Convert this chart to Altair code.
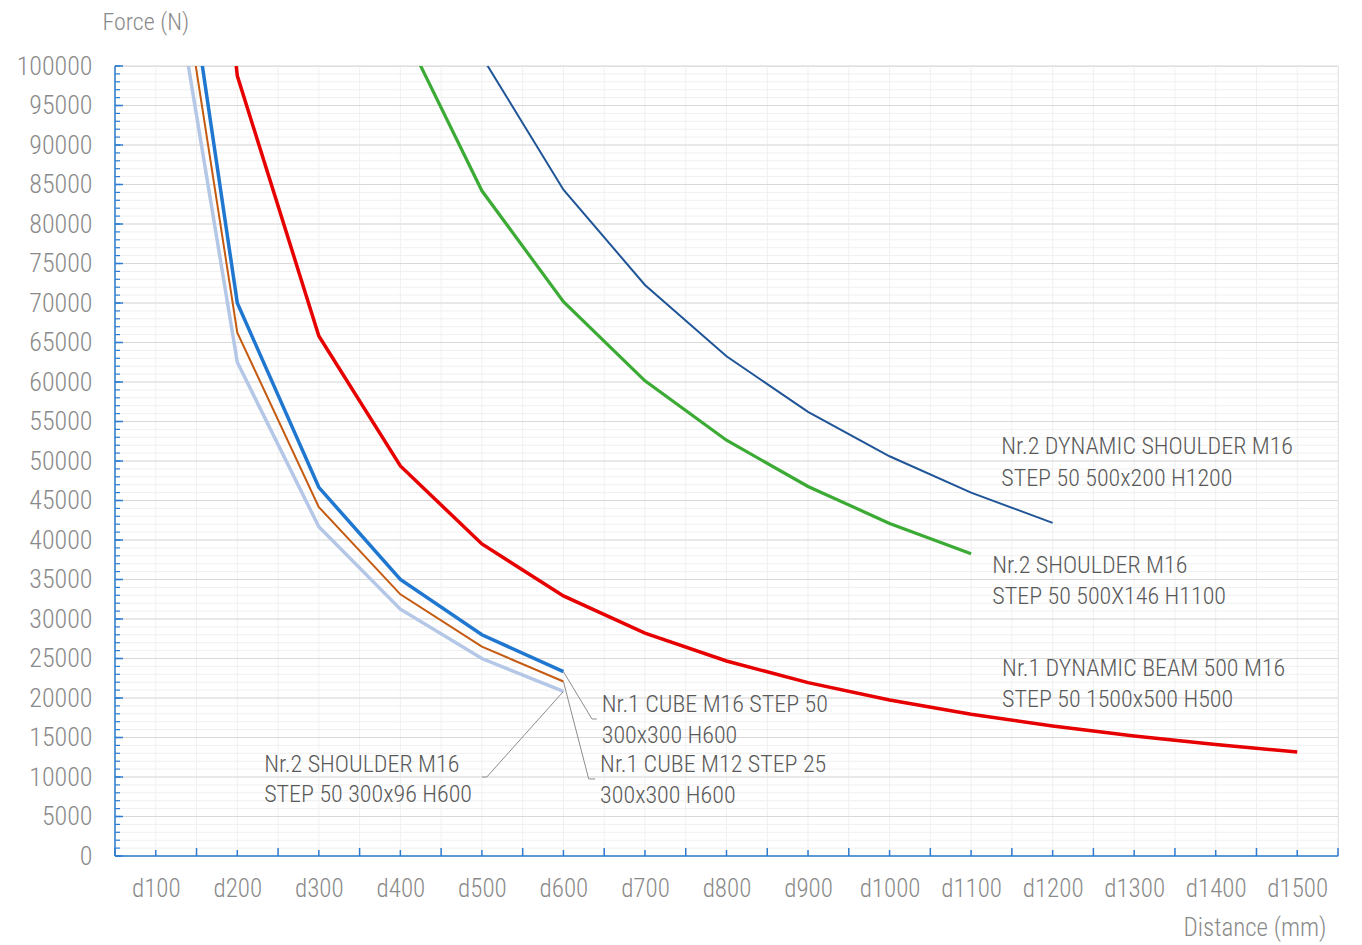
import altair as alt
import pandas as pd

# ---------------- data ----------------
dist_short = [100, 200, 300, 400, 500, 600]
shoulder_300x96 = [125000, 62500, 41667, 31250, 25000, 20833]
cube_m12 = [132500, 66250, 44167, 33125, 26500, 22083]
cube_m16 = [140000, 70000, 46667, 35000, 28000, 23333]

dist_beam = [100, 200, 300, 400, 500, 600, 700, 800, 900, 1000, 1100, 1200, 1300, 1400, 1500]
dyn_beam = [197500, 98750, 65833, 49375, 39500, 32917, 28214, 24687, 21944, 19750,
            17955, 16458, 15192, 14107, 13167]

dist_green = [400, 500, 600, 700, 800, 900, 1000, 1100]
shoulder_500x146 = [105250, 84200, 70167, 60143, 52625, 46778, 42100, 38273]

dist_dyn = [500, 600, 700, 800, 900, 1000, 1100, 1200]
dyn_shoulder = [101200, 84333, 72286, 63250, 56222, 50600, 46000, 42167]

x_labels = list(range(100, 1501, 100))
y_labels = list(range(0, 100001, 5000))

series_names = ["s300x96", "m12", "m16", "beam", "s500x146", "dyn"]
series_colors = ["#b4c7e7", "#c55a11", "#1f77d0", "#e60000", "#3cab35", "#1f5597"]
series_widths = [3.5, 2, 3.5, 3.5, 3.2, 2]

# annotation labels (left edge x, line y in data units)
ann_text = ["Nr.2 DYNAMIC SHOULDER M16", "STEP 50 500x200 H1200",
            "Nr.2 SHOULDER M16", "STEP 50 500X146 H1100",
            "Nr.1 DYNAMIC BEAM 500 M16", "STEP 50 1500x500 H500",
            "Nr.1 CUBE M16 STEP 50", "300x300 H600",
            "Nr.1 CUBE M12 STEP 25", "300x300 H600",
            "Nr.2 SHOULDER M16", "STEP 50 300x96 H600"]
ann_x = [1137, 1137, 1126, 1126, 1138, 1138, 647, 647, 645, 645, 233, 233]
ann_y = [51772, 47722, 36709, 32785, 23671, 19747, 19114, 15190, 11519, 7595, 11519, 7722]

# leader lines
lead_id = ["a", "a", "a", "b", "b", "b", "c", "c", "c"]
lead_x = [600, 635, 641, 600, 631, 639, 600, 506, 500]
lead_y = [23333, 17342, 17342, 22083, 9750, 9750, 20833, 10000, 10000]

# ---------------- build tables ----------------
rows = []
for (name, xs_, ys_), col, w in zip([("s300x96", dist_short, shoulder_300x96),
                                     ("m12", dist_short, cube_m12),
                                     ("m16", dist_short, cube_m16),
                                     ("beam", dist_beam, dyn_beam),
                                     ("s500x146", dist_green, shoulder_500x146),
                                     ("dyn", dist_dyn, dyn_shoulder)],
                                    series_colors, series_widths):
    for i, (xv, yv) in enumerate(zip(xs_, ys_)):
        rows.append({"series": name, "d": xv, "f": yv, "o": i, "c": col, "w": w})
df = pd.DataFrame(rows)

ann = pd.DataFrame({"t": ann_text, "x": ann_x, "y": ann_y})
lead = pd.DataFrame({"id": lead_id, "x": lead_x, "y": lead_y, "o": list(range(len(lead_x)))})

vgrid = pd.DataFrame({"v": list(range(50, 1551, 50))})
hminor = pd.DataFrame({"v": list(range(0, 100001, 1000))})
hmajor = pd.DataFrame({"v": y_labels})
xticks_c = pd.DataFrame({"v": x_labels})
xticks_b = pd.DataFrame({"v": list(range(50, 1551, 100))})

FONT = "Roboto Condensed, Liberation Sans Narrow, Roboto"
W, H = 1223, 790

xs = alt.Scale(domain=[50, 1550], nice=False, zero=False)
ys = alt.Scale(domain=[0, 100000], nice=False)

XA = alt.Axis(values=x_labels, labelExpr="'d' + datum.value", grid=False, ticks=False,
              domain=False, labelFontSize=25, labelColor="#8a8a8a", labelFont=FONT,
              labelFontWeight=300, labelOverlap=False,
              labelPadding=32, labelBaseline="middle",
              title="Distance (mm)", titleFont=FONT, titleFontSize=25,
              titleFontWeight=300, titleColor="#8a8a8a",
              titleAnchor="end", titleAlign="right", titleBaseline="middle",
              titleX=1211, titleY=71)
YA = alt.Axis(values=y_labels, format="d", grid=False, ticks=False, domain=False,
              labelFontSize=26, labelColor="#8a8a8a", labelFont=FONT,
              labelFontWeight=300, labelOverlap=False,
              labelPadding=23, labelBaseline="middle",
              title="Force (N)", titleFont=FONT, titleFontSize=24,
              titleFontWeight=300, titleColor="#8a8a8a", titleAngle=0,
              titleAlign="left", titleBaseline="middle", titleX=-13, titleY=-44)


def X(f):
    return alt.X(f, scale=xs, axis=XA, title="Distance (mm)")


def Y(f):
    return alt.Y(f, scale=ys, axis=YA, title="Force (N)")


vg = alt.Chart(vgrid).mark_rule(color="#f0f0f0", strokeWidth=1).encode(x=X("v:Q"))
hmin = alt.Chart(hminor).mark_rule(color="#f0f0f0", strokeWidth=1).encode(y=Y("v:Q"))
hmaj = alt.Chart(hmajor).mark_rule(color="#d9d9d9", strokeWidth=1.2).encode(y=Y("v:Q"))

# custom axis lines and inward ticks
yaxis_line = alt.Chart(hmajor).mark_rule(color="#5b9bd5", strokeWidth=2).encode(
    x=alt.value(0), y=alt.value(0), y2=alt.value(H))
xaxis_line = alt.Chart(hmajor).mark_rule(color="#5b9bd5", strokeWidth=2).encode(
    x=alt.value(0), x2=alt.value(W), y=alt.value(H))
ytick_min = alt.Chart(hminor).mark_rule(color="#2e7bd0", strokeWidth=1.2).encode(
    y=Y("v:Q"), x=alt.value(0), x2=alt.value(5))
ytick_maj = alt.Chart(hmajor).mark_rule(color="#2e7bd0", strokeWidth=1.5).encode(
    y=Y("v:Q"), x=alt.value(0), x2=alt.value(8))
xtick_c = alt.Chart(xticks_c).mark_rule(color="#2e7bd0", strokeWidth=1.5).encode(
    x=X("v:Q"), y=alt.value(H), y2=alt.value(H - 6))
xtick_b = alt.Chart(xticks_b).mark_rule(color="#2e7bd0", strokeWidth=1.5).encode(
    x=X("v:Q"), y=alt.value(H), y2=alt.value(H - 8))

lines = alt.Chart(df).mark_line(clip=True).encode(
    x=X("d:Q"),
    y=Y("f:Q"),
    color=alt.Color("c:N", scale=None),
    strokeWidth=alt.StrokeWidth("w:Q", scale=None),
    detail="series:N",
    order="o:Q",
)

leaders = alt.Chart(lead).mark_line(color="#8c8c8c", strokeWidth=1).encode(
    x=X("x:Q"), y=Y("y:Q"), detail="id:N", order="o:Q")

labels = alt.Chart(ann).mark_text(align="left", baseline="middle", font=FONT, fontSize=24,
                                  fontWeight=300, color="#595959").encode(
    x=X("x:Q"), y=Y("y:Q"), text="t:N")

chart = alt.layer(vg, hmin, hmaj, yaxis_line, xaxis_line, ytick_min, ytick_maj, xtick_c, xtick_b,
                  lines, leaders, labels).properties(
    width=W, height=H,
    autosize=alt.AutoSizeParams(type="none"),
    padding={"left": 107, "top": 58, "right": 16, "bottom": 87},
).configure_view(stroke=None).configure(background="white")

chart.save("out.html", embed_options={"renderer": "svg", "actions": False})
